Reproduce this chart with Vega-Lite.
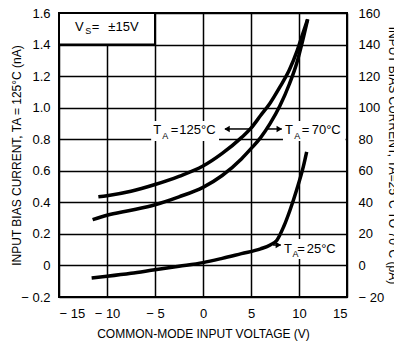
{
  "$schema": "https://vega.github.io/schema/vega-lite/v6.json",
  "width": 288,
  "height": 284,
  "autosize": {"type": "none"},
  "padding": {"left": 59, "top": 13, "right": 47, "bottom": 47},
  "background": "white",
  "config": {
    "font": "Liberation Sans",
    "view": {"stroke": "black", "strokeWidth": 2},
    "axis": {
      "labelFontSize": 13, "labelColor": "black", "titleFontSize": 12, "labelOverlap": false,
      "titleFontWeight": "normal", "titleColor": "black",
      "domain": false, "ticks": false, "gridColor": "black", "gridOpacity": 1, "gridWidth": 1.5
    }
  },
  "datasets": {
    "c125": [
      {"v": -10.9, "i": 0.435}, {"v": -10, "i": 0.442}, {"v": -7.5, "i": 0.47}, {"v": -5, "i": 0.513},
      {"v": -2.5, "i": 0.565}, {"v": 0, "i": 0.63}, {"v": 2, "i": 0.71}, {"v": 4, "i": 0.81},
      {"v": 5, "i": 0.87}, {"v": 6, "i": 0.95}, {"v": 7, "i": 1.03}, {"v": 8, "i": 1.13},
      {"v": 9, "i": 1.24}, {"v": 9.8, "i": 1.36}, {"v": 10.4, "i": 1.47}, {"v": 10.9, "i": 1.56}
    ],
    "cpA": [
      {"s": "70", "v": -11.5, "i": 29}, {"s": "70", "v": -10, "i": 31.8}, {"s": "70", "v": -7.5, "i": 35},
      {"s": "70", "v": -5, "i": 38.5}, {"s": "70", "v": -2.5, "i": 43.5}, {"s": "70", "v": 0, "i": 49.5},
      {"s": "70", "v": 2, "i": 57}, {"s": "70", "v": 4, "i": 67.5}, {"s": "70", "v": 5, "i": 74},
      {"s": "70", "v": 6, "i": 81}, {"s": "70", "v": 7, "i": 90}, {"s": "70", "v": 8, "i": 101},
      {"s": "70", "v": 9, "i": 115}, {"s": "70", "v": 9.8, "i": 129}, {"s": "70", "v": 10.4, "i": 143},
      {"s": "70", "v": 10.9, "i": 156},
      {"s": "25", "v": -11.6, "i": -8}, {"s": "25", "v": -10, "i": -6.9}, {"s": "25", "v": -7.5, "i": -5},
      {"s": "25", "v": -5, "i": -2.7}, {"s": "25", "v": -2.5, "i": -0.5}, {"s": "25", "v": 0, "i": 1.8},
      {"s": "25", "v": 2, "i": 4.5}, {"s": "25", "v": 4, "i": 7.5}, {"s": "25", "v": 6, "i": 10.5},
      {"s": "25", "v": 7, "i": 13}, {"s": "25", "v": 7.7, "i": 16}, {"s": "25", "v": 8.4, "i": 24.5},
      {"s": "25", "v": 9.06, "i": 35}, {"s": "25", "v": 9.76, "i": 48}, {"s": "25", "v": 10.45, "i": 62.6},
      {"s": "25", "v": 10.8, "i": 72}
    ],
    "boxes": [
      {"x": -5.4, "x2": 1.67, "y": 0.789, "y2": 0.915},
      {"x": 8.33, "x2": 14.85, "y": 0.789, "y2": 0.915},
      {"x": 8.23, "x2": 14.8, "y": 0.041, "y2": 0.1675}
    ],
    "vsbox": [{"x": -15, "x2": -5, "y": 1.4, "y2": 1.6}],
    "arrows": [
      {"x": 2.3, "x2": 5.0, "y": 0.865},
      {"x": 6.6, "x2": 8.2, "y": 0.865},
      {"x": 7.3, "x2": 8.1, "y": 0.1295}
    ],
    "heads": [
      {"x": 2.5, "y": 0.865, "dir": "left"},
      {"x": 7.95, "y": 0.865, "dir": "right"},
      {"x": 7.85, "y": 0.1295, "dir": "right"}
    ],
    "txt": [
      {"x": -5.18, "y": 0.831, "t": "T"}, {"x": -3.36, "y": 0.831, "t": "="}, {"x": -2.47, "y": 0.831, "t": "125°C"},
      {"x": 8.54, "y": 0.831, "t": "T"}, {"x": 10.28, "y": 0.831, "t": "="}, {"x": 11.32, "y": 0.831, "t": "70°C"},
      {"x": 8.44, "y": 0.0807, "t": "T"}, {"x": 9.82, "y": 0.0807, "t": "="}, {"x": 10.8, "y": 0.0807, "t": "25°C"},
      {"x": -13.33, "y": 1.484, "t": "V"}, {"x": -11.59, "y": 1.484, "t": "="}, {"x": -9.86, "y": 1.484, "t": "±15V"}
    ],
    "sub": [
      {"x": -4.25, "y": 0.801, "t": "A"},
      {"x": 9.5, "y": 0.801, "t": "A"},
      {"x": 9.32, "y": 0.0554, "t": "A"},
      {"x": -12.27, "y": 1.469, "t": "S"}
    ]
  },
  "encoding": {
    "x": {"type": "quantitative", "scale": {"domain": [-15, 15], "nice": false}}
  },
  "layer": [
    {
      "data": {"name": "c125"},
      "mark": {"type": "line", "color": "black", "strokeWidth": 3.5, "interpolate": "monotone"},
      "encoding": {
        "x": {"field": "v", "type": "quantitative", "scale": {"domain": [-15, 15], "nice": false},
          "axis": {"values": [-15, -10, -5, 0, 5, 10, 15], "grid": true, "labelPadding": 10, "labelOverlap": false, "labelBound": false,
            "labelExpr": "datum.value < 0 ? '− ' + format(-datum.value, 'd') : format(datum.value, 'd')",
            "title": "COMMON-MODE INPUT VOLTAGE (V)", "titleX": 144, "titleY": 36, "titleBaseline": "middle"}},
        "y": {"field": "i", "type": "quantitative", "scale": {"domain": [-0.2, 1.6], "nice": false, "zero": false},
          "axis": {"orient": "left", "values": [-0.2, 0, 0.2, 0.4, 0.6, 0.8, 1.0, 1.2, 1.4, 1.6], "grid": true, "labelPadding": 9,
            "labelOverlap": false, "labelBound": false, "labelFlush": false,
            "labelExpr": "datum.value == 0 ? '0' : (datum.value < 0 ? '− ' + format(-datum.value, '.1f') : format(datum.value, '.1f'))",
            "title": "INPUT BIAS CURRENT, TA = 125°C (nA)", "titleX": -43, "titleY": 142, "titleAngle": -90,
            "titleAlign": "center", "titleBaseline": "middle"}}
      }
    },
    {
      "data": {"name": "cpA"},
      "mark": {"type": "line", "color": "black", "strokeWidth": 3.5, "interpolate": "monotone"},
      "encoding": {
        "x": {"field": "v", "type": "quantitative"},
        "y": {"field": "i", "type": "quantitative", "scale": {"domain": [-20, 160], "nice": false, "zero": false},
          "axis": {"orient": "right", "values": [-20, 0, 20, 40, 60, 80, 100, 120, 140, 160], "grid": false, "labelPadding": 11,
            "labelOverlap": false, "labelBound": false, "labelFlush": false,
            "labelExpr": "datum.value < 0 ? '− ' + format(-datum.value, 'd') : format(datum.value, 'd')",
            "title": "INPUT BIAS CURRENT, TA=25°C TO 70°C (pA)", "titleX": 45, "titleY": 142, "titleAngle": 90,
            "titleAlign": "center", "titleBaseline": "middle"}},
        "detail": {"field": "s"}
      }
    },
    {
      "data": {"name": "vsbox"},
      "mark": {"type": "rect", "fill": "white", "stroke": "black", "strokeWidth": 2},
      "encoding": {"x": {"field": "x", "type": "quantitative"}, "x2": {"field": "x2"},
        "y": {"field": "y", "type": "quantitative", "scale": {"domain": [-0.2, 1.6], "nice": false, "zero": false}, "axis": null}, "y2": {"field": "y2"}}
    },
    {
      "data": {"name": "boxes"},
      "mark": {"type": "rect", "fill": "white"},
      "encoding": {"x": {"field": "x", "type": "quantitative"}, "x2": {"field": "x2"},
        "y": {"field": "y", "type": "quantitative", "scale": {"domain": [-0.2, 1.6], "nice": false, "zero": false}, "axis": null}, "y2": {"field": "y2"}}
    },
    {
      "data": {"name": "arrows"},
      "mark": {"type": "rule", "color": "black", "strokeWidth": 1.5},
      "encoding": {"x": {"field": "x", "type": "quantitative"}, "x2": {"field": "x2"},
        "y": {"field": "y", "type": "quantitative", "scale": {"domain": [-0.2, 1.6], "nice": false, "zero": false}, "axis": null}}
    },
    {
      "data": {"name": "heads"},
      "mark": {"type": "point", "filled": true, "color": "black", "opacity": 1, "size": 40},
      "encoding": {"x": {"field": "x", "type": "quantitative"},
        "y": {"field": "y", "type": "quantitative", "scale": {"domain": [-0.2, 1.6], "nice": false, "zero": false}, "axis": null},
        "shape": {"field": "dir", "type": "nominal", "scale": {"domain": ["left", "right"], "range": ["triangle-left", "triangle-right"]}, "legend": null}}
    },
    {
      "data": {"name": "txt"},
      "mark": {"type": "text", "align": "left", "baseline": "alphabetic", "fontSize": 13, "color": "black"},
      "encoding": {"x": {"field": "x", "type": "quantitative"},
        "y": {"field": "y", "type": "quantitative", "scale": {"domain": [-0.2, 1.6], "nice": false, "zero": false}, "axis": null}, "text": {"field": "t"}}
    },
    {
      "data": {"name": "sub"},
      "mark": {"type": "text", "align": "left", "baseline": "alphabetic", "fontSize": 9, "color": "black"},
      "encoding": {"x": {"field": "x", "type": "quantitative"},
        "y": {"field": "y", "type": "quantitative", "scale": {"domain": [-0.2, 1.6], "nice": false, "zero": false}, "axis": null}, "text": {"field": "t"}}
    }
  ],
  "resolve": {"scale": {"y": "independent"}}
}
